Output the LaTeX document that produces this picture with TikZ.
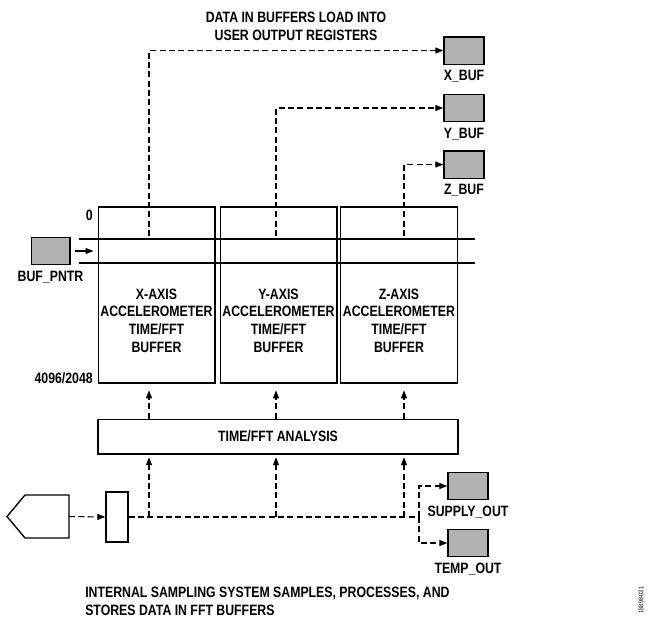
\documentclass[tikz,border=0pt]{standalone}
\usepackage{fontspec}
\setmainfont{Liberation Sans}[FakeStretch=0.82]
\usetikzlibrary{arrows.meta,positioning,calc}

\begin{document}
\begin{tikzpicture}[
    x=0.75pt, y=-0.75pt,
    font=\bfseries\fontsize{11.25}{13.3}\selectfont,
    box/.style={draw, line width=1pt, inner sep=0pt, align=center},
    reg/.style={box, fill=gray!60, minimum width=30pt, minimum height=20.5pt},
    buf/.style={box, minimum width=87.5pt, minimum height=132pt},
    lbl/.style={inner sep=0pt, align=center},
    dashes/.style={line width=0.8pt, dash pattern=on 4.5pt off 2.5pt},
    flow/.style={dashes, -{Triangle[length=6pt, width=4.5pt]}},
    line/.style={line width=0.8pt, -{Triangle[length=6pt, width=4.5pt]}},
  ]
    \useasboundingbox (0,0) rectangle (652,622);

    % buffers
    \node[buf] (xbuf) at (156.5,295) {};
    \node[buf] (ybuf) at (278.5,295) {};
    \node[buf] (zbuf) at (399,295) {};
    \node[lbl] (xtxt) at (156.5,320.5) {X-AXIS\\ACCELEROMETER\\TIME/FFT\\BUFFER};
    \node[lbl] (ytxt) at (278.5,320.5) {Y-AXIS\\ACCELEROMETER\\TIME/FFT\\BUFFER};
    \node[lbl] (ztxt) at (399,320.5) {Z-AXIS\\ACCELEROMETER\\TIME/FFT\\BUFFER};
    \draw[line width=0.8pt] (79,239) -- (475,239);
    \draw[line width=0.8pt] (79,263) -- (475,263);
    \node[lbl, anchor=east] (top) at (93,215) {0};
    \node[lbl, anchor=east] (bot) at (93,378) {4096/2048};

    % pointer
    \node[reg, minimum width=29pt] (pntr) at (50.5,251) {};
    \node[lbl, below=4pt of pntr] {BUF\_PNTR};
    \draw[line] ([xshift=3pt]pntr.east) -- ++(19,0);

    % output registers
    \node[reg] (xreg) at (464,50.5) {};
    \node[reg] (yreg) at (464,108) {};
    \node[reg] (zreg) at (464,164.5) {};
    \node[lbl, below=4pt of xreg] {X\_BUF};
    \node[lbl, below=4pt of yreg] {Y\_BUF};
    \node[lbl, below=4pt of zreg] {Z\_BUF};
    \node[lbl] (title) at (296,26) {DATA IN BUFFERS LOAD INTO\\USER OUTPUT REGISTERS};

    \coordinate (xtap) at (149,236);
    \coordinate (ytap) at (276,236);
    \coordinate (ztap) at (404,236);
    \draw[flow] (xtap) |- (xreg.west);
    \draw[flow] (ytap) |- (yreg.west);
    \draw[flow] (ztap) |- (zreg.west);

    % analysis
    \node[box, minimum width=270pt, minimum height=26pt] (fft) at (278,436.5) {TIME/FFT ANALYSIS};
    \draw[flow, shorten >=5pt] (xtap |- fft.north) -- (xtap |- xbuf.south);
    \draw[flow, shorten >=5pt] (ytap |- fft.north) -- (ytap |- ybuf.south);
    \draw[flow, shorten >=5pt] (ztap |- fft.north) -- (ztap |- zbuf.south);

    % sampling
    \draw[box] (25,495) -- (69,495) -- (69,538) -- (25,538) -- (7,516.5) -- cycle;
    \coordinate (sensor) at (69,516.5);
    \node[box, minimum width=16.5pt, minimum height=37.5pt] (adc) at (117,517) {};
    \draw[flow] (sensor) -- (adc.west);
    \coordinate (split) at (419,517);
    \draw[dashes] (adc.east) -- (split);
    \draw[flow, shorten >=2pt] (xtap |- split) -- (xtap |- fft.south);
    \draw[flow, shorten >=2pt] (ytap |- split) -- (ytap |- fft.south);
    \draw[flow, shorten >=2pt] (ztap |- split) -- (ztap |- fft.south);

    \node[reg] (supply) at (468,486) {};
    \node[reg] (temp) at (468,543) {};
    \node[lbl, below=4pt of supply] {SUPPLY\_OUT};
    \node[lbl, below=4pt of temp] {TEMP\_OUT};
    \draw[flow] (split) |- (supply.west);
    \draw[flow] (split) |- (temp.west);

    \node[lbl, anchor=north west, align=left] (note) at (85,587)
      {INTERNAL SAMPLING SYSTEM SAMPLES, PROCESSES, AND\\STORES DATA IN FFT BUFFERS};
    \node[lbl, rotate=90, font=\fontsize{5}{6}\selectfont] (fig) at (641,600) {18898-031};
\end{tikzpicture}
\end{document}
